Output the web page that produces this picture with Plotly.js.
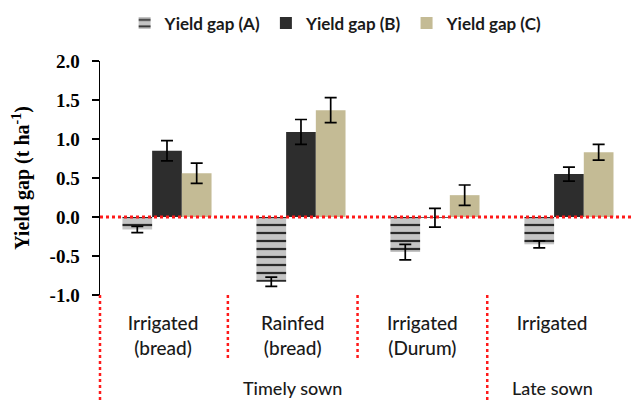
<!DOCTYPE html>
<html>
<head>
<meta charset="utf-8">
<script src="https://cdn.plot.ly/plotly-3.0.1.min.js"></script>
<style>html,body{margin:0;padding:0;background:#fff;}#chart{width:633px;height:400px;}</style>
</head>
<body>
<div id="chart"></div>
<script>
// ---- data ----
var categories = ["Irrigated<br>(bread)", "Rainfed<br>(bread)", "Irrigated<br>(Durum)", "Irrigated"];
var seriesNames = ["Yield gap (A)", "Yield gap (B)", "Yield gap (C)"];
var gapA = [-0.16, -0.83, -0.45, -0.35];
var errA = [0.04, 0.06, 0.10, 0.045];
var gapB = [0.85, 1.09, -0.01, 0.55];
var errB = [0.13, 0.16, 0.12, 0.09];
var gapC = [0.56, 1.37, 0.28, 0.83];
var errC = [0.13, 0.16, 0.13, 0.10];
var groupLabels = ["Timely sown", "Late sown"];
var groupLabelPos = [1, 3];
var yTickVals = [-1.0, -0.5, 0.0, 0.5, 1.0, 1.5, 2.0];
var yTickText = ["-1.0", "-0.5", "0.0", "0.5", "1.0", "1.5", "2.0"];
var separatorsShort = [0.5, 1.5];
var separatorsLong = [2.5];

var errStyle = function (arr) {
  return {type: "data", array: arr, visible: true, color: "#000", thickness: 1.7, width: 6};
};

var traces = [
  {type: "bar", name: seriesNames[0], x: categories, y: gapA, error_y: errStyle(errA),
   marker: {color: "#bcbcbc", line: {width: 0},
            pattern: {shape: "-", fgcolor: "#2a2a2a", bgcolor: "#c4c4c4", size: 8, solidity: 0.28}}},
  {type: "bar", name: seriesNames[1], x: categories, y: gapB, error_y: errStyle(errB),
   marker: {color: "#2d2d2d", line: {width: 0}}},
  {type: "bar", name: seriesNames[2], x: categories, y: gapC, error_y: errStyle(errC),
   marker: {color: "#c4bb95", line: {width: 0}}},
  {type: "scatter", x: categories, y: categories.map(function () { return null; }),
   xaxis: "x2", showlegend: false, hoverinfo: "skip", mode: "markers"}
];

var shapes = [
  {type: "line", xref: "paper", yref: "y", x0: 0, x1: 1, y0: 0, y1: 0,
   line: {color: "#ff1a1a", width: 3, dash: "dot"}},
  {type: "line", xref: "paper", yref: "paper", x0: 0, x1: 0, y0: 0, y1: -0.46,
   line: {color: "#ff1a1a", width: 2.5, dash: "dot"}}
];
separatorsShort.forEach(function (s) {
  shapes.push({type: "line", xref: "x2", yref: "paper", x0: s, x1: s, y0: 0, y1: -0.27,
    line: {color: "#ff1a1a", width: 2.5, dash: "dot"}});
});
separatorsLong.forEach(function (s) {
  shapes.push({type: "line", xref: "x2", yref: "paper", x0: s, x1: s, y0: 0, y1: -0.46,
    line: {color: "#ff1a1a", width: 2.5, dash: "dot"}});
});

var annotations = groupLabels.map(function (t, i) {
  return {text: t, xref: "x2", yref: "paper", x: groupLabelPos[i], y: -0.397,
    xanchor: "center", yanchor: "middle", showarrow: false,
    font: {family: "Lato, sans-serif", size: 18, color: "#1a1a1a", weight: 500}};
});

var layout = {
  width: 633, height: 400,
  margin: {l: 100, r: 0, t: 61, b: 105, pad: 0},
  paper_bgcolor: "#fff", plot_bgcolor: "#fff",
  barmode: "group", bargap: 0.335, bargroupgap: 0,
  showlegend: true,
  legend: {orientation: "h", x: 0.443, y: 1.16, xanchor: "center", yanchor: "middle",
    font: {family: "Lato, sans-serif", size: 17, color: "#1a1a1a", weight: "bold"},
    traceorder: "normal", itemwidth: 30},
  xaxis: {type: "category", range: [-0.5, 3.478], showticklabels: false, ticks: "",
    showline: false, showgrid: false, zeroline: false, fixedrange: true},
  xaxis2: {type: "category", overlaying: "x", anchor: "y", side: "bottom",
    range: [-0.486, 3.624], showline: false, showgrid: false, zeroline: false,
    ticks: "outside", ticklen: 11, tickcolor: "rgba(0,0,0,0)",
    tickfont: {family: "Lato, sans-serif", size: 19, color: "#1a1a1a", weight: 500}},
  yaxis: {range: [-1, 2], tickvals: yTickVals, ticktext: yTickText,
    showline: true, linecolor: "#000", linewidth: 1.5, ticks: "outside", ticklen: 7,
    tickcolor: "#000", tickwidth: 1.5, showgrid: false, zeroline: false,
    ticklabelstandoff: 8,
    tickfont: {family: "Liberation Serif, Times New Roman, serif", size: 19, color: "#000", weight: "bold"},
    title: {text: "Yield gap (t ha<sup>-1</sup>)", standoff: 14,
      font: {family: "Liberation Serif, Times New Roman, serif", size: 20, color: "#000", weight: "bold"}}},
  shapes: shapes,
  annotations: annotations
};

Plotly.newPlot("chart", traces, layout, {staticPlot: true, displayModeBar: false});
</script>
</body>
</html>
